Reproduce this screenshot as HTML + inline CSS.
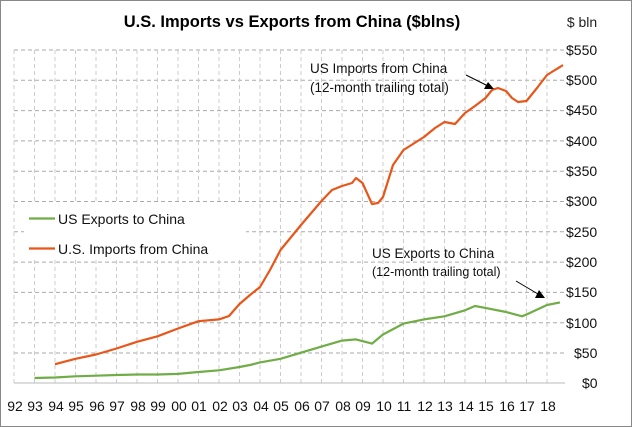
<!DOCTYPE html>
<html><head><style>body{margin:0;background:#fff}svg{display:block}</style></head><body>
<svg width="632" height="427" viewBox="0 0 632 427" xmlns="http://www.w3.org/2000/svg" font-family="Liberation Sans, sans-serif">
<rect x="0.5" y="0.5" width="631" height="426" fill="#fff" stroke="#888"/>
<text x="292" y="27" text-anchor="middle" font-size="16.5" font-weight="bold" fill="#000">U.S. Imports vs Exports from China ($blns)</text>
<text x="582" y="27" text-anchor="middle" font-size="14" fill="#222">$ bln</text>
<g stroke="#aaa" stroke-dasharray="4,3" stroke-width="1">
<line x1="14" x2="565" y1="50" y2="50"/><line x1="14" x2="565" y1="80.3" y2="80.3"/><line x1="14" x2="565" y1="110.6" y2="110.6"/><line x1="14" x2="565" y1="140.9" y2="140.9"/><line x1="14" x2="565" y1="171.2" y2="171.2"/><line x1="14" x2="565" y1="201.5" y2="201.5"/><line x1="14" x2="565" y1="231.8" y2="231.8"/><line x1="14" x2="565" y1="262.1" y2="262.1"/><line x1="14" x2="565" y1="292.4" y2="292.4"/><line x1="14" x2="565" y1="322.7" y2="322.7"/><line x1="14" x2="565" y1="353" y2="353"/>
</g>
<g stroke="#ccc" stroke-dasharray="4,3">
<line x1="14" x2="14" y1="50" y2="383"/><line x1="34.5" x2="34.5" y1="50" y2="383"/><line x1="55" x2="55" y1="50" y2="383"/><line x1="75.5" x2="75.5" y1="50" y2="383"/><line x1="96" x2="96" y1="50" y2="383"/><line x1="116.5" x2="116.5" y1="50" y2="383"/><line x1="137" x2="137" y1="50" y2="383"/><line x1="157.5" x2="157.5" y1="50" y2="383"/><line x1="178" x2="178" y1="50" y2="383"/><line x1="198.5" x2="198.5" y1="50" y2="383"/><line x1="219" x2="219" y1="50" y2="383"/><line x1="239.5" x2="239.5" y1="50" y2="383"/><line x1="260" x2="260" y1="50" y2="383"/><line x1="280.5" x2="280.5" y1="50" y2="383"/><line x1="301" x2="301" y1="50" y2="383"/><line x1="321.5" x2="321.5" y1="50" y2="383"/><line x1="342" x2="342" y1="50" y2="383"/><line x1="362.5" x2="362.5" y1="50" y2="383"/><line x1="383" x2="383" y1="50" y2="383"/><line x1="403.5" x2="403.5" y1="50" y2="383"/><line x1="424" x2="424" y1="50" y2="383"/><line x1="444.5" x2="444.5" y1="50" y2="383"/><line x1="465" x2="465" y1="50" y2="383"/><line x1="485.5" x2="485.5" y1="50" y2="383"/><line x1="506" x2="506" y1="50" y2="383"/><line x1="526.5" x2="526.5" y1="50" y2="383"/><line x1="547" x2="547" y1="50" y2="383"/>
</g>
<line x1="14" x2="565" y1="383" y2="383" stroke="#bbb"/>
<g font-size="14" fill="#111">
<text x="566" y="55">$550</text><text x="566" y="85">$500</text><text x="566" y="115">$450</text><text x="566" y="146">$400</text><text x="566" y="176">$350</text><text x="566" y="206">$300</text><text x="566" y="237">$250</text><text x="566" y="267">$200</text><text x="566" y="297">$150</text><text x="566" y="328">$100</text><text x="574" y="358">$50</text><text x="582" y="388">$0</text>
</g>
<g font-size="14" fill="#111" text-anchor="middle">
<text x="15" y="411">92</text><text x="35" y="411">93</text><text x="56" y="411">94</text><text x="76" y="411">95</text><text x="97" y="411">96</text><text x="117" y="411">97</text><text x="138" y="411">98</text><text x="158" y="411">99</text><text x="179" y="411">00</text><text x="199" y="411">01</text><text x="220" y="411">02</text><text x="240" y="411">03</text><text x="261" y="411">04</text><text x="281" y="411">05</text><text x="302" y="411">06</text><text x="322" y="411">07</text><text x="343" y="411">08</text><text x="363" y="411">09</text><text x="384" y="411">10</text><text x="404" y="411">11</text><text x="425" y="411">12</text><text x="445" y="411">13</text><text x="466" y="411">14</text><text x="486" y="411">15</text><text x="507" y="411">16</text><text x="527" y="411">17</text><text x="548" y="411">18</text>
</g>
<polyline fill="none" stroke="#E8561A" stroke-width="2.2" stroke-linejoin="round" points="55,364.2 75.5,358.8 96,354.5 116.5,348.5 137,341.8 157.5,336.3 178,328.5 198.5,321.2 219,319.4 229,316 239.5,304 250,295 260,287 270,270 280.5,250 301,225 321.5,201 332,190 342,186 352,183 356,178 362.5,183 372,204 378,203 383,197 393,165 403.5,150 424,137 435,128 444.5,122 455,124 465,113 475,106 485.5,98 492,90 498,88 506,91 512,98 518,102 526.5,101 537,88 547,75 555,70 560,67 563,65"/>
<polyline fill="none" stroke="#70AD47" stroke-width="2.2" stroke-linejoin="round" points="34.5,378 55,377.5 75.5,376.3 96,375.7 116.5,375 137,374.5 157.5,374.5 178,373.9 198.5,372 219,370.3 239.5,367 250,365 260,362.4 280.5,358.8 301,352.7 321.5,346.6 342,340.6 356,339.4 372,343.6 383,334.5 403.5,323.6 424,319.4 444.5,316.3 465,310.3 475,306 485.5,307.9 506,312 522,316.3 526.5,314.5 547,305 560,302.4"/>
<rect x="24" y="204" width="222" height="55" fill="#fff"/>
<line x1="29" x2="55" y1="218.5" y2="218.5" stroke="#70AD47" stroke-width="2.2"/>
<line x1="29" x2="55" y1="248.5" y2="248.5" stroke="#E8561A" stroke-width="2.2"/>
<g font-size="14" fill="#111">
<text x="58" y="224">US Exports to China</text>
<text x="58" y="254">U.S. Imports from China</text>
<text x="310" y="73" font-size="13.5">US Imports  from China</text>
<text x="310" y="92" font-size="13.5">(12-month  trailing total)</text>
<text x="372" y="258" font-size="13.5">US Exports to China</text>
<text x="372" y="276" font-size="12.5">(12-month trailing total)</text>
</g>
<line x1="466" y1="75" x2="488" y2="86" stroke="#000" stroke-width="1"/>
<polygon points="494,89 484,89 488,82" fill="#000"/>
<line x1="516" y1="281" x2="538" y2="294" stroke="#000" stroke-width="1"/>
<polygon points="545,298 535,298 539,290" fill="#000"/>
</svg>
</body></html>
